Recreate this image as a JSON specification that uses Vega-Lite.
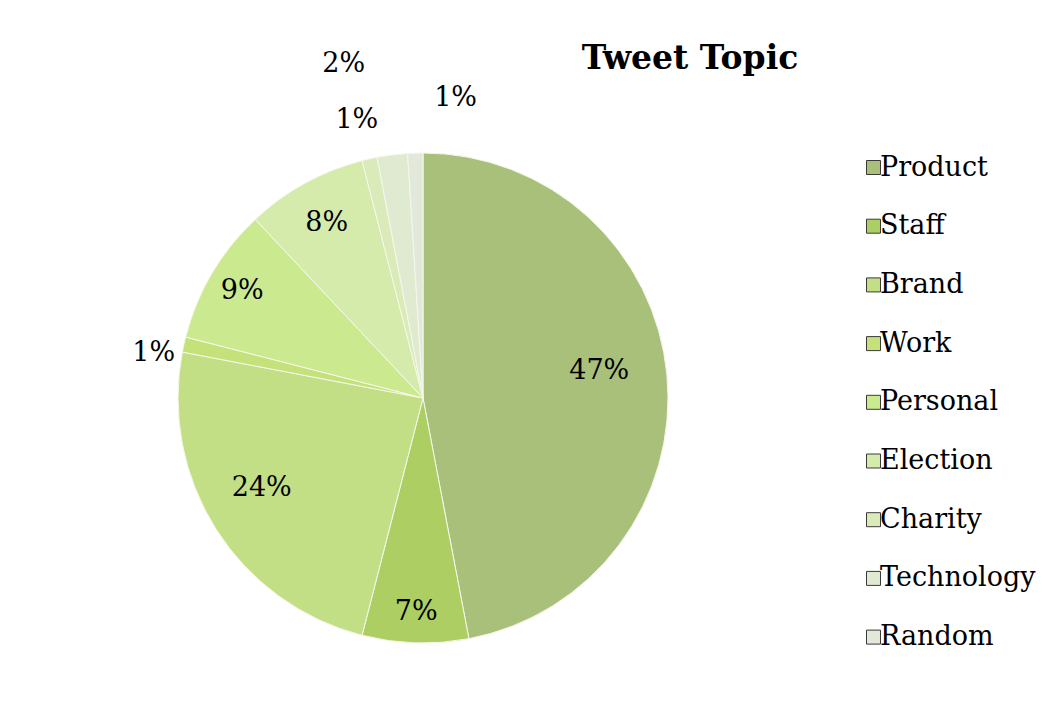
{
  "$schema": "https://vega.github.io/schema/vega-lite/v6.json",
  "width": 490,
  "height": 490,
  "autosize": "none",
  "padding": {"left": 178, "top": 153, "right": 395, "bottom": 70},
  "background": "white",
  "config": {"view": {"stroke": null}, "font": "DejaVu Serif"},
  "title": {
    "text": "Tweet Topic",
    "font": "DejaVu Serif",
    "fontSize": 33,
    "fontWeight": "bold",
    "color": "black",
    "anchor": "middle",
    "frame": "group",
    "dx": 267,
    "offset": 0,
    "dy": 55,
    "baseline": "alphabetic"
  },
  "data": {
    "values": [
      {"idx": 1, "cat": "Product", "value": 0.47},
      {"idx": 2, "cat": "Staff", "value": 0.07},
      {"idx": 3, "cat": "Brand", "value": 0.24},
      {"idx": 4, "cat": "Work", "value": 0.01},
      {"idx": 5, "cat": "Personal", "value": 0.09},
      {"idx": 6, "cat": "Election", "value": 0.08},
      {"idx": 7, "cat": "Charity", "value": 0.01},
      {"idx": 8, "cat": "Technology", "value": 0.02},
      {"idx": 9, "cat": "Random", "value": 0.01}
    ]
  },
  "encoding": {
    "theta": {"field": "value", "type": "quantitative", "stack": true},
    "order": {"field": "idx", "type": "quantitative"}
  },
  "layer": [
    {
      "mark": {"type": "arc", "outerRadius": 245, "stroke": "#f4f8ea", "strokeWidth": 1},
      "encoding": {
        "color": {
          "field": "cat",
          "type": "nominal",
          "scale": {
            "domain": ["Product", "Staff", "Brand", "Work", "Personal", "Election", "Charity", "Technology", "Random"],
            "range": ["#a8c07a", "#acce62", "#c2df86", "#c5e27a", "#cbe98e", "#d5ebab", "#daeab9", "#e0ead0", "#e2e8da"]
          },
          "legend": {
            "title": null,
            "orient": "none",
            "legendX": 682,
            "legendY": 1,
            "symbolType": "square",
            "symbolSize": 196,
            "symbolStrokeColor": "#3a3a3a",
            "symbolStrokeWidth": 1,
            "symbolOpacity": 1,
            "labelFont": "DejaVu Serif",
            "labelFontSize": 27,
            "labelColor": "black",
            "labelOffset": -7,
            "rowPadding": 30.7,
            "labelLimit": 300
          }
        }
      }
    },
    {
      "mark": {"type": "text", "radius": 177, "dy": -10, "fontSize": 27, "align": "center", "baseline": "middle", "color": "black"},
      "encoding": {
        "text": {"field": "value", "type": "quantitative", "format": ".0%"},
        "opacity": {"condition": {"test": "datum.cat === 'Product'", "value": 1}, "value": 0}
      }
    },
    {
      "mark": {"type": "text", "radius": 214, "fontSize": 27, "align": "center", "baseline": "middle", "color": "black"},
      "encoding": {
        "text": {"field": "value", "type": "quantitative", "format": ".0%"},
        "opacity": {"condition": {"test": "datum.cat === 'Staff'", "value": 1}, "value": 0}
      }
    },
    {
      "mark": {"type": "text", "radius": 191, "dy": -12, "fontSize": 27, "align": "center", "baseline": "middle", "color": "black"},
      "encoding": {
        "text": {"field": "value", "type": "quantitative", "format": ".0%"},
        "opacity": {"condition": {"test": "datum.cat === 'Brand'", "value": 1}, "value": 0}
      }
    },
    {
      "mark": {"type": "text", "radius": 210, "fontSize": 27, "align": "center", "baseline": "middle", "color": "black"},
      "encoding": {
        "text": {"field": "value", "type": "quantitative", "format": ".0%"},
        "opacity": {"condition": {"test": "datum.cat === 'Personal'", "value": 1}, "value": 0}
      }
    },
    {
      "mark": {"type": "text", "radius": 200, "fontSize": 27, "align": "center", "baseline": "middle", "color": "black"},
      "encoding": {
        "text": {"field": "value", "type": "quantitative", "format": ".0%"},
        "opacity": {"condition": {"test": "datum.cat === 'Election'", "value": 1}, "value": 0}
      }
    },
    {
      "mark": {"type": "text", "radius": 276, "dy": 15, "fontSize": 27, "align": "center", "baseline": "middle", "color": "black"},
      "encoding": {
        "text": {"field": "value", "type": "quantitative", "format": ".0%"},
        "opacity": {"condition": {"test": "datum.cat === 'Work'", "value": 1}, "value": 0}
      }
    },
    {
      "mark": {"type": "text", "radius": 285, "dx": -4, "fontSize": 27, "align": "center", "baseline": "middle", "color": "black"},
      "encoding": {
        "text": {"field": "value", "type": "quantitative", "format": ".0%"},
        "opacity": {"condition": {"test": "datum.cat === 'Charity'", "value": 1}, "value": 0}
      }
    },
    {
      "mark": {"type": "text", "radius": 337, "dx": -37, "fontSize": 27, "align": "center", "baseline": "middle", "color": "black"},
      "encoding": {
        "text": {"field": "value", "type": "quantitative", "format": ".0%"},
        "opacity": {"condition": {"test": "datum.cat === 'Technology'", "value": 1}, "value": 0}
      }
    },
    {
      "mark": {"type": "text", "radius": 300, "dx": 42, "fontSize": 27, "align": "center", "baseline": "middle", "color": "black"},
      "encoding": {
        "text": {"field": "value", "type": "quantitative", "format": ".0%"},
        "opacity": {"condition": {"test": "datum.cat === 'Random'", "value": 1}, "value": 0}
      }
    }
  ]
}
